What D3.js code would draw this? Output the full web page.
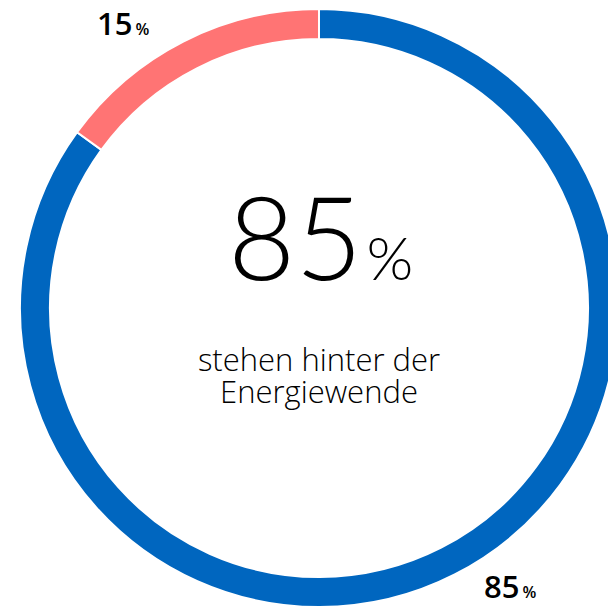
<!DOCTYPE html>
<html>
<head>
  <script src="https://d3js.org/d3.v7.min.js"></script>
  <style>
    body { margin: 0; background: #fff; }
    svg { display: block; font-family: "Open Sans", Lato, sans-serif; }
  </style>
</head>
<body>
  <svg id="donut" width="608" height="606"></svg>
  <script>
    // data
    var categories = ["dafür", "dagegen"];
    var values = [85, 15];
    var colors = ["#0066bf", "#ff7474"];
    var headline = "85";
    var subtitle = ["stehen hinter der", "Energiewende"];

    var cx = 319, cy = 308;
    var outerR = 299, innerR = 269;

    var svg = d3.select("#donut");
    var g = svg.append("g").attr("transform", "translate(" + cx + "," + cy + ")");

    var pie = d3.pie().sort(null).value(function(d) { return d; });
    var arc = d3.arc().innerRadius(innerR).outerRadius(outerR);

    var arcs = pie(values);

    g.selectAll("path")
      .data(arcs)
      .enter().append("path")
      .attr("d", arc)
      .attr("fill", function(d, i) { return colors[i]; })
      .attr("stroke", "#fff")
      .attr("stroke-width", 2);

    // big number in the middle
    var big = g.append("text")
      .attr("x", -91)
      .attr("y", -28)
      .style("font-family", "Lato, sans-serif");
    big.append("tspan")
      .style("font-size", "116px")
      .style("font-weight", 300)
      .text(headline);
    big.append("tspan")
      .attr("dx", 4)
      .style("font-size", "60px")
      .style("font-weight", 300)
      .text("%");

    // two-line caption as one text block
    var sub = g.append("text")
      .attr("text-anchor", "middle")
      .attr("y", 63)
      .style("font-size", "31px")
      .style("font-weight", 300);
    sub.selectAll("tspan")
      .data(subtitle)
      .enter().append("tspan")
      .attr("x", 0)
      .attr("y", function(d, i) { return 63 + i * 32; })
      .text(function(d) { return d; });

    // outside labels
    var labelPos = [[484, 598], [97, 35]];
    arcs.forEach(function(d, i) {
      var t = svg.append("text")
        .attr("x", labelPos[i][0])
        .attr("y", labelPos[i][1]);
      t.append("tspan")
        .style("font-size", "31px")
        .style("font-weight", 600)
        .text(values[i]);
      t.append("tspan")
        .attr("dx", 3)
        .style("font-size", "16px")
        .style("font-weight", 600)
        .text("%");
    });
  </script>
</body>
</html>
